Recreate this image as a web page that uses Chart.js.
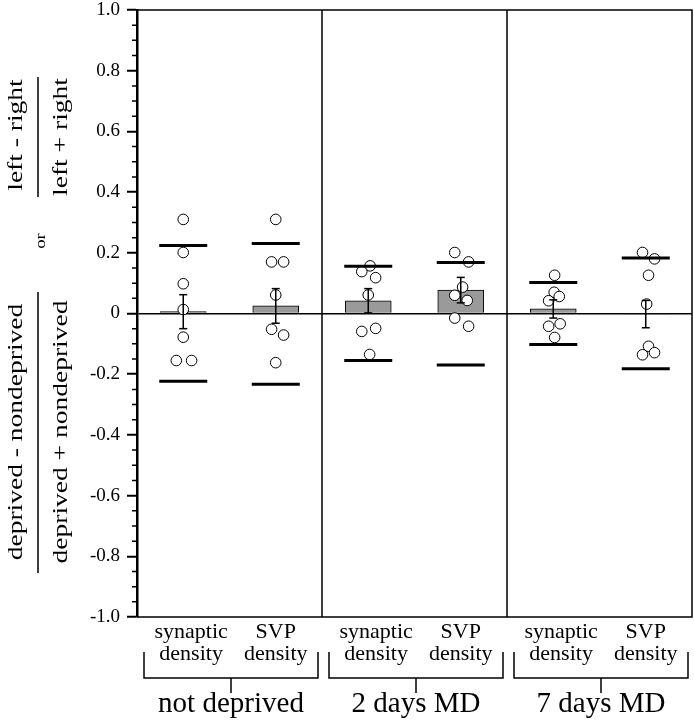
<!DOCTYPE html>
<html>
<head>
<meta charset="utf-8">
<script src="https://cdn.jsdelivr.net/npm/chart.js@4.4.1/dist/chart.umd.min.js"></script>
<style>
  html, body { margin: 0; padding: 0; background: #fff; }
  #wrap { width: 694px; height: 720px; }
</style>
</head>
<body>
<div id="wrap"><canvas id="chart" width="694" height="720"></canvas></div>
<script>
// categories (x positions are 0.5 .. 5.5 on a 0-6 linear axis, two per panel)
const categories = [
  ['synaptic', 'density'], ['SVP', 'density'],
  ['synaptic', 'density'], ['SVP', 'density'],
  ['synaptic', 'density'], ['SVP', 'density']
];
const groups = ['not deprived', '2 days MD', '7 days MD'];
const catX = [0.5, 1.5, 2.5, 3.5, 4.5, 5.5];
const panelEdges = [0, 2, 4, 6];

// bar heights (mean) and error bars (sem)
const means = [0.006, 0.025, 0.042, 0.077, 0.015, -0.002];
const sems = [0.056, 0.057, 0.040, 0.042, 0.030, 0.045];

// thick horizontal limit lines
const upperLine = [0.224, 0.231, 0.156, 0.168, 0.102, 0.183];
const lowerLine = [-0.223, -0.233, -0.155, -0.170, -0.102, -0.182];

// individual animals (y) and their horizontal jitter (x units)
const pointsY = [
  [0.310, 0.201, 0.098, 0.013, -0.078, -0.155, -0.155],
  [0.310, 0.170, 0.170, 0.061, -0.052, -0.071, -0.162],
  [0.157, 0.138, 0.118, 0.061, -0.059, -0.049, -0.135],
  [0.201, 0.170, 0.087, 0.060, 0.043, -0.015, -0.042],
  [0.126, 0.070, 0.056, 0.042, -0.042, -0.034, -0.079],
  [0.201, 0.180, 0.126, 0.031, -0.108, -0.136, -0.129]
];
const pointsJitter = [
  [0, 0, 0, 0, 0, -0.075, 0.09],
  [0, -0.045, 0.085, 0, -0.045, 0.085, 0],
  [0.02, -0.07, 0.08, 0, -0.07, 0.08, 0.015],
  [-0.065, 0.085, 0.02, -0.065, 0.07, -0.065, 0.085],
  [0.015, 0.01, 0.065, -0.05, -0.05, 0.075, 0.015],
  [-0.035, 0.095, 0.03, 0.01, 0.03, -0.035, 0.095]
];

// y axis: -1 .. 1, labels every 0.2, minor ticks every 0.05
const yMin = -1, yMax = 1, yMajor = 0.2, yMinor = 0.05;

const FONT = '"Liberation Serif", "Times New Roman", serif';
Chart.defaults.font.family = FONT;
Chart.defaults.color = '#000';

const isMajor = v => Math.abs(v / yMajor - Math.round(v / yMajor)) < 1e-6;

const barData = catX.map((x, i) => ({ x, y: means[i] }));
const limitData = [];
catX.forEach((x, i) => { limitData.push({ x, y: upperLine[i] }, { x, y: lowerLine[i] }); });
const dotData = [];
pointsY.forEach((arr, i) => arr.forEach((v, j) => dotData.push({ x: catX[i] + pointsJitter[i][j], y: v })));
const errData = [];
catX.forEach((x, i) => {
  errData.push({ x, y: means[i] - sems[i] }, { x, y: means[i] + sems[i] }, { x, y: null });
});

function vtext(ctx, str, x, y, size) {
  ctx.save();
  ctx.translate(x, y);
  ctx.scale(1, 1.25);
  ctx.rotate(-Math.PI / 2);
  ctx.font = size + 'px ' + FONT;
  ctx.textAlign = 'center';
  ctx.textBaseline = 'alphabetic';
  ctx.fillText(str, 0, 0);
  ctx.restore();
}

const decor = {
  id: 'decor',
  afterDraw(chart) {
    const { ctx, chartArea: a, scales: { x, y } } = chart;
    ctx.save();
    ctx.strokeStyle = '#000';
    ctx.fillStyle = '#000';

    // frame and panel dividers
    ctx.lineWidth = 1.5;
    ctx.beginPath();
    ctx.moveTo(a.left, a.top); ctx.lineTo(a.right, a.top);
    ctx.lineTo(a.right, a.bottom); ctx.lineTo(a.left, a.bottom);
    panelEdges.slice(1, -1).forEach(v => {
      const px = x.getPixelForValue(v);
      ctx.moveTo(px, a.top); ctx.lineTo(px, a.bottom);
    });
    ctx.stroke();

    // minor ticks
    ctx.beginPath();
    y.ticks.forEach(t => {
      if (isMajor(t.value)) return;
      const py = y.getPixelForValue(t.value);
      ctx.moveTo(a.left - 5, py); ctx.lineTo(a.left, py);
    });
    ctx.stroke();

    // brackets under each panel and group names
    ctx.lineWidth = 1.5;
    ctx.font = '29px ' + FONT;
    ctx.textAlign = 'center';
    ctx.textBaseline = 'alphabetic';
    groups.forEach((g, i) => {
      const l = x.getPixelForValue(panelEdges[i]) + 7;
      const r = x.getPixelForValue(panelEdges[i + 1]) - 4;
      const c = (l + r) / 2;
      ctx.beginPath();
      ctx.moveTo(l, a.bottom + 35); ctx.lineTo(l, a.bottom + 61);
      ctx.lineTo(r, a.bottom + 61); ctx.lineTo(r, a.bottom + 35);
      ctx.moveTo(c, a.bottom + 61); ctx.lineTo(c, a.bottom + 76);
      ctx.stroke();
      ctx.fillText(g, c, a.bottom + 95);
    });

    // y title: two fractions joined by "or"
    vtext(ctx, 'left - right', 22, 135, 22);
    vtext(ctx, 'left + right', 67, 137, 22);
    vtext(ctx, 'or', 45, 241, 15);
    vtext(ctx, 'deprived - nondeprived', 22, 432, 22);
    vtext(ctx, 'deprived + nondeprived', 67, 432, 22);
    ctx.lineWidth = 1.5;
    ctx.beginPath();
    ctx.moveTo(38, 77); ctx.lineTo(38, 197);
    ctx.moveTo(38, 292); ctx.lineTo(38, 573);
    ctx.stroke();

    ctx.restore();
  }
};

new Chart(document.getElementById('chart'), {
  type: 'bar',
  data: {
    datasets: [
      {
        type: 'line',
        data: errData,
        borderColor: '#000',
        borderWidth: 1.5,
        spanGaps: false,
        pointStyle: 'line',
        pointRadius: 4,
        pointBorderWidth: 1.5,
        pointBorderColor: '#000',
        order: 1
      },
      {
        type: 'scatter',
        data: limitData,
        pointStyle: 'line',
        pointRadius: 24,
        pointBorderWidth: 3,
        pointBorderColor: '#000',
        order: 2
      },
      {
        type: 'scatter',
        data: dotData,
        pointStyle: 'circle',
        pointRadius: 5.3,
        pointBorderWidth: 1,
        pointBorderColor: '#000',
        pointBackgroundColor: '#fff',
        order: 3
      },
      {
        type: 'bar',
        data: barData,
        backgroundColor: '#9a9a9a',
        borderColor: '#000',
        borderWidth: 1,
        barThickness: 46,
        order: 4
      }
    ]
  },
  options: {
    responsive: false,
    animation: false,
    devicePixelRatio: 1,
    layout: { autoPadding: false, padding: { top: 10, right: 2, left: 0, bottom: 0 } },
    plugins: { legend: { display: false }, tooltip: { enabled: false } },
    scales: {
      x: {
        type: 'linear',
        min: 0,
        max: 6,
        offset: false,
        afterBuildTicks: axis => {
          axis.ticks = catX.map((v, i) => ({ value: v + (i % 2 === 0 ? 0.085 : 0) }));
        },
        afterFit: axis => {
          axis.height = 103;
          axis.paddingLeft = 0;
          axis.paddingRight = 0;
        },
        ticks: {
          autoSkip: false,
          maxRotation: 0,
          padding: 4,
          font: { size: 22, lineHeight: 1 },
          callback: (v, i) => categories[i]
        },
        grid: { display: false, drawTicks: false },
        border: { display: false }
      },
      y: {
        type: 'linear',
        min: yMin,
        max: yMax,
        afterFit: axis => {
          axis.width = 137;
          axis.paddingTop = 0;
          axis.paddingBottom = 0;
        },
        ticks: {
          stepSize: yMinor,
          autoSkip: false,
          padding: 7,
          font: { size: 19 },
          callback: v => {
            if (!isMajor(v)) return '';
            const r = Math.round(v * 10) / 10;
            return r === 0 ? '0' : r.toFixed(1);
          }
        },
        grid: {
          drawOnChartArea: true,
          color: c => (Math.abs(c.tick.value) < 1e-9 ? '#000' : 'rgba(0,0,0,0)'),
          lineWidth: 1.5,
          tickLength: 10,
          tickWidth: 2,
          tickColor: c => (isMajor(c.tick.value) ? '#000' : 'rgba(0,0,0,0)')
        },
        border: { display: true, color: '#000', width: 2.5 }
      }
    }
  },
  plugins: [decor]
});
</script>
</body>
</html>
